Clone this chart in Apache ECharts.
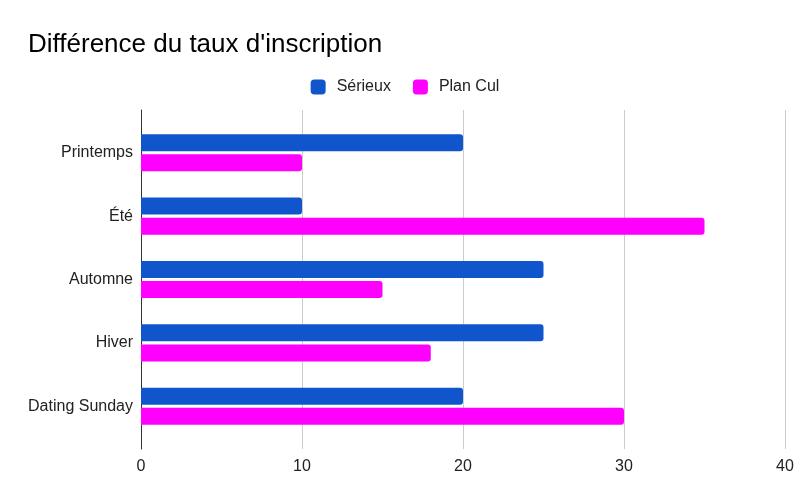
<!DOCTYPE html>
<html><head><meta charset="utf-8">
<script src="https://cdn.jsdelivr.net/npm/echarts@6/dist/echarts.min.js"></script>
<style>html,body{margin:0;padding:0;background:#fff}#c{width:810px;height:501px}</style>
</head><body><div id="c"></div>
<script>
const categories = ['Printemps', 'Été', 'Automne', 'Hiver', 'Dating Sunday'];
const serieux = [20, 10, 25, 25, 20];
const planCul = [10, 35, 15, 18, 30];
const xTicks = { min: 0, max: 40, interval: 10 };

const font = 'Liberation Sans, Arial, sans-serif';
const chart = echarts.init(document.getElementById('c'));
chart.setOption({
  animation: false,
  backgroundColor: '#fff',
  title: {
    text: "Différence du taux d'inscription",
    left: 23, top: 27,
    textStyle: { fontFamily: font, fontSize: 26, fontWeight: 'normal', color: '#000' }
  },
  legend: {
    top: 74, left: 'center',
    itemWidth: 15, itemHeight: 15, itemGap: 22,
    icon: 'roundRect',
    textStyle: { fontFamily: font, fontSize: 16, color: '#222', padding: [0, 0, 0, 6] },
    data: ['Sérieux', 'Plan Cul']
  },
  grid: [
    { left: 141, right: 25, top: 110, bottom: 52 },
    { left: 141, right: 25, top: 121, bottom: 63 }
  ],
  xAxis: [
    { type: 'value', gridIndex: 0, min: xTicks.min, max: xTicks.max, interval: xTicks.interval,
      axisLine: { show: false }, axisTick: { show: false },
      axisLabel: { fontFamily: font, fontSize: 16, color: '#222', margin: 10 },
      splitLine: { lineStyle: { color: '#cccccc' } } },
    { type: 'value', gridIndex: 1, min: xTicks.min, max: xTicks.max, interval: xTicks.interval,
      show: false }
  ],
  yAxis: [
    { type: 'category', gridIndex: 0, data: categories, inverse: true,
      axisLine: { show: true, lineStyle: { color: '#333', width: 1 } },
      axisTick: { show: false }, axisLabel: { show: false }, splitLine: { show: false } },
    { type: 'category', gridIndex: 1, data: categories, inverse: true,
      axisLine: { show: false }, axisTick: { show: false },
      axisLabel: { fontFamily: font, fontSize: 16, color: '#222', margin: 8 } }
  ],
  series: [
    { name: 'Sérieux', type: 'bar', xAxisIndex: 1, yAxisIndex: 1, data: serieux,
      barWidth: 17, barGap: '18%', itemStyle: { color: '#1155cc', borderRadius: [0, 3, 3, 0] } },
    { name: 'Plan Cul', type: 'bar', xAxisIndex: 1, yAxisIndex: 1, data: planCul,
      barWidth: 17, barGap: '18%', itemStyle: { color: '#ff00ff', borderRadius: [0, 3, 3, 0] } }
  ]
});
</script></body></html>
